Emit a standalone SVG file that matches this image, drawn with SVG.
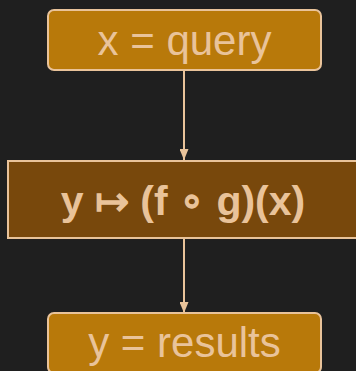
<svg xmlns="http://www.w3.org/2000/svg" width="356" height="371" viewBox="0 0 356 371">
<defs>
<style>
.lbl{font-family:"Liberation Sans",Arial,sans-serif;font-size:42px;fill:#e9c39a;text-anchor:middle}
.b{font-weight:bold;font-size:41px}
.edge{stroke:#e9c39a;stroke-width:2;fill:none}
.n1{fill:#b8790a;stroke:#e9c39a;stroke-width:2}
.n2{fill:#78480c;stroke:#e9c39a;stroke-width:2}
</style>
<marker id="ah" viewBox="0 0 11 9" refX="11" refY="4.5" markerWidth="11" markerHeight="9" markerUnits="userSpaceOnUse" orient="auto">
<path d="M0,0 L11,4.5 L0,9 z" fill="#e9c39a"/>
</marker>
</defs>
<rect width="356" height="371" fill="#1f1f1f"/>
<g id="edges">
<line class="edge" x1="184" y1="70" x2="184" y2="160" marker-end="url(#ah)"/>
<line class="edge" x1="184" y1="238" x2="184" y2="313" marker-end="url(#ah)"/>
</g>
<g id="query">
<rect class="n1" x="48" y="10" width="273" height="60" rx="6"/>
<text class="lbl" x="184.5" y="55">x = query</text>
</g>
<g id="compose">
<rect class="n2" x="8" y="161" width="352" height="77"/>
<text class="lbl b" x="183" y="215">y ↦ (f ∘ g)(x)</text>
</g>
<g id="results">
<rect class="n1" x="48" y="313" width="273" height="60" rx="6"/>
<text class="lbl" x="184.5" y="357">y = results</text>
</g>
</svg>
